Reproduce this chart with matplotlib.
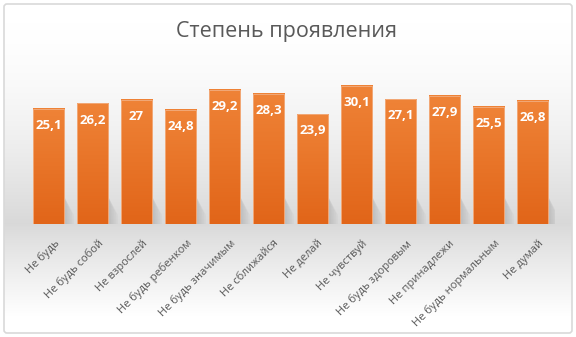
import matplotlib
matplotlib.use("Agg")
import matplotlib.pyplot as plt
import numpy as np
from matplotlib.colors import LinearSegmentedColormap
from matplotlib.patches import FancyBboxPatch
from matplotlib.transforms import ScaledTranslation

categories = ["Не будь", "Не будь собой", "Не взрослей", "Не будь ребенком",
              "Не будь значимым", "Не сближайся", "Не делай", "Не чувствуй",
              "Не будь здоровым", "Не принадлежи", "Не будь нормальным", "Не думай"]
values = [25.1, 26.2, 27, 24.8, 29.2, 28.3, 23.9, 30.1, 27.1, 27.9, 25.5, 26.8]
value_labels = ["25,1", "26,2", "27", "24,8", "29,2", "28,3", "23,9", "30,1",
                "27,1", "27,9", "25,5", "26,8"]
title = "Степень проявления"

W, H = 576, 337
fig = plt.figure(figsize=(W / 100, H / 100), dpi=100)

# background gradient
bg = fig.add_axes([0, 0, 1, 1], zorder=0)
bg.set_xlim(0, W)
bg.set_ylim(H, 0)
bg.axis("off")
ys = np.linspace(0, H, 400)
def shade(y):
    if y < 225:
        t = np.clip((y - 20) / 205, 0, 1)
        return 1 - 0.15 * t ** 1.6
    else:
        t = np.clip((y - 225) / 95, 0, 1)
        return 0.85 + 0.15 * t ** 0.9
g = np.array([shade(y) for y in ys])
img = np.dstack([g, g, g]).reshape(len(ys), 1, 3).repeat(2, axis=1)
bg.imshow(img, extent=[4, 572, 333, 4], aspect="auto", zorder=0)
bg.add_patch(FancyBboxPatch((4, 4), 568, 329, boxstyle="round,pad=0,rounding_size=3",
                            fill=False, edgecolor="#d9d9d9", lw=1.2, zorder=2))
bg.text(287, 31, title, ha="center", va="center", fontsize=15.5,
        color="#595959", family="Open Sans")

ax = fig.add_axes([26.5 / W, (H - 224) / H, 528 / W, 161 / H], zorder=1)
ax.patch.set_alpha(0)
n = len(values)
x = np.arange(n)
ax.set_xlim(-0.5, n - 0.5)
ax.set_ylim(0, 35)
bw = 0.71

cmap = LinearSegmentedColormap.from_list("o", ["#e16519", "#ef8337"])
grad = np.linspace(0, 1, 256)[:, None]
for xi, v, lab in zip(x, values, value_labels):
    # soft shadow
    for k in range(6):
        ax.add_patch(plt.Polygon([[xi + bw / 2, 0], [xi + bw / 2 + 0.02 + k * 0.04, 0],
                                  [xi + bw / 2 + 0.02 + k * 0.04, 4.5 - k * 0.5],
                                  [xi + bw / 2, 6]],
                                 closed=True, color="#7f7f7f", alpha=0.06, lw=0, zorder=1))
    ax.imshow(grad, extent=[xi - bw / 2, xi + bw / 2, 0, v], origin="lower",
              cmap=cmap, aspect="auto", zorder=2)
    ax.add_patch(plt.Rectangle((xi - bw / 2, 0), bw, v, fill=False,
                               edgecolor="#f2a978", lw=0.7, zorder=3))
    ax.text(xi, v - 3.6, lab, ha="center", va="center", color="white",
            fontsize=9.5, fontweight="bold", family="Open Sans", zorder=4)

ax.set_xticks(x)
ax.set_xticklabels(categories, rotation=45, ha="right", rotation_mode="anchor",
                   fontsize=8, color="#595959", family="Open Sans")
ax.tick_params(axis="x", length=0, pad=10)
off = ScaledTranslation(5 / 100, 0, fig.dpi_scale_trans)
for t in ax.get_xticklabels():
    t.set_transform(t.get_transform() + off)
ax.set_yticks([])
for s in ax.spines.values():
    s.set_visible(False)

fig.savefig("out.png", dpi=100)
